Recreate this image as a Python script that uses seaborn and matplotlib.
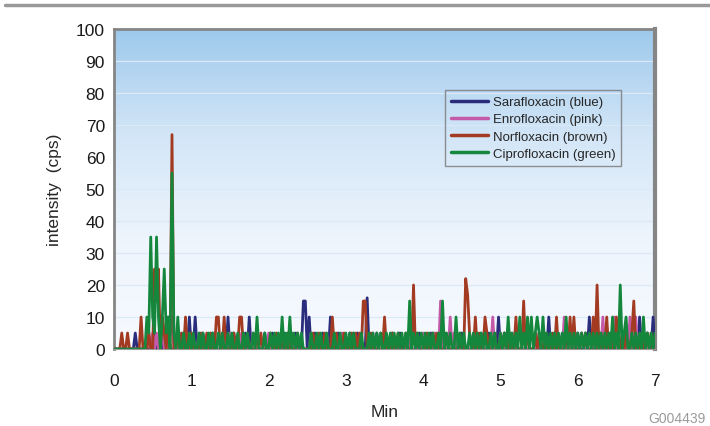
import numpy as np
import pandas as pd
import matplotlib.pyplot as plt
import seaborn as sns
from matplotlib.colors import LinearSegmentedColormap
from matplotlib.lines import Line2D

sns.set_theme(style="white")
plt.rcParams['font.family'] = ['Liberation Sans', 'DejaVu Sans']

# sampling step of the trace (min) and run length
dt = 0.025
run_end = 7.0

# nonzero samples (time in min, intensity in cps)
sara_t = [0.275, 0.525, 0.6, 0.7, 0.9, 0.975, 1.05, 1.15, 1.275, 1.475, 1.55, 1.7, 1.75,
          1.95, 2.05, 2.2, 2.35, 2.45, 2.475, 2.525, 2.6, 2.7, 2.8, 2.9, 3.05, 3.15, 3.275,
          3.4, 3.6, 3.7, 3.95, 4.1, 4.5, 4.75, 4.85, 4.975, 5.05, 5.2, 5.45, 5.625, 5.7,
          5.8, 6.0, 6.1, 6.15, 6.25, 6.4, 6.6, 6.7, 6.8, 6.9, 6.975]
sara_v = [5, 5, 5, 5, 5, 10, 10, 5, 5, 10, 5, 5, 10,
          5, 5, 5, 5, 15, 15, 10, 5, 5, 10, 5, 5, 5, 16,
          5, 5, 5, 5, 5, 5, 5, 5, 10, 5, 5, 5, 10, 5,
          5, 5, 5, 10, 5, 5, 5, 5, 10, 5, 10]

enro_t = [0.45, 0.5, 0.55, 0.6, 0.625, 0.675, 0.725, 0.75, 0.85, 0.95, 1.1, 1.3, 1.5,
          1.65, 1.8, 2.0, 2.3, 2.55, 2.75, 2.95, 3.1, 3.35, 3.5, 3.8, 4.0, 4.15, 4.225,
          4.35, 4.4, 4.65, 4.9, 5.0, 5.15, 5.5, 5.75, 5.825, 5.95, 6.05, 6.2, 6.325,
          6.45, 6.475, 6.6, 6.675, 6.75, 6.85]
enro_v = [5, 5, 5, 5, 5, 5, 5, 10, 5, 5, 5, 5, 5,
          5, 5, 5, 5, 5, 5, 5, 5, 5, 5, 5, 5, 5, 15,
          10, 5, 5, 10, 5, 5, 5, 5, 10, 5, 5, 5, 10,
          5, 10, 5, 10, 10, 5]

norf_t = [0.1, 0.175, 0.35, 0.45, 0.525, 0.55, 0.575, 0.625, 0.65, 0.7, 0.75, 0.825,
          0.875, 0.925, 1.0, 1.125, 1.2, 1.25, 1.325, 1.35, 1.425, 1.55, 1.625, 1.65,
          1.725, 1.85, 1.9, 2.025, 2.1, 2.175, 2.25, 2.375, 2.575, 2.65, 2.725, 2.825,
          2.875, 2.975, 3.075, 3.125, 3.175, 3.225, 3.25, 3.325, 3.45, 3.5, 3.6, 3.675,
          3.775, 3.875, 3.925, 4.05, 4.125, 4.175, 4.3, 4.475, 4.55, 4.575, 4.6, 4.675,
          4.725, 4.8, 4.825, 4.925, 5.05, 5.125, 5.2, 5.3, 5.35, 5.45, 5.5, 5.575,
          5.675, 5.725, 5.85, 5.9, 5.95, 6.05, 6.1, 6.2, 6.25, 6.3, 6.375, 6.425, 6.5,
          6.575, 6.625, 6.7, 6.725, 6.825, 6.9, 6.95]
norf_v = [5, 5, 10, 5, 25, 15, 25, 10, 5, 10, 67, 5,
          5, 10, 5, 5, 5, 5, 10, 10, 10, 5, 10, 10,
          5, 5, 5, 5, 5, 5, 5, 5, 5, 5, 5, 10,
          5, 5, 5, 5, 5, 15, 15, 5, 5, 10, 5, 5,
          5, 20, 5, 5, 5, 5, 5, 5, 22, 17, 5, 10,
          5, 10, 5, 5, 5, 5, 10, 15, 5, 5, 5, 5,
          5, 10, 5, 10, 10, 5, 5, 10, 20, 5, 10, 5, 10,
          5, 5, 5, 15, 5, 5, 5]

cipro_t = [0.425, 0.45, 0.475, 0.5, 0.525, 0.55, 0.575, 0.625, 0.65, 0.675, 0.7, 0.725,
           0.75, 0.775, 0.825, 0.9, 0.975, 1.025, 1.1, 1.15, 1.225, 1.275, 1.35, 1.4,
           1.475, 1.525, 1.6, 1.675, 1.725, 1.8, 1.85, 1.95, 2.025, 2.075, 2.125, 2.175,
           2.225, 2.275, 2.325, 2.375, 2.425, 2.55, 2.625, 2.675, 2.75, 2.85, 2.925, 3.0,
           3.05, 3.1, 3.2, 3.3, 3.35, 3.4, 3.45, 3.525, 3.575, 3.625, 3.675, 3.725, 3.775,
           3.825, 3.875, 3.925, 3.975, 4.025, 4.075, 4.125, 4.2, 4.25, 4.3, 4.35, 4.425,
           4.475, 4.525, 4.6, 4.65, 4.7, 4.75, 4.8, 4.875, 4.925, 5.0, 5.05, 5.1, 5.15,
           5.2, 5.25, 5.3, 5.35, 5.4, 5.45, 5.475, 5.5, 5.55, 5.6, 5.65, 5.7, 5.75, 5.8,
           5.85, 5.9, 5.95, 6.0, 6.05, 6.1, 6.15, 6.2, 6.25, 6.3, 6.35, 6.4, 6.45, 6.5,
           6.55, 6.6, 6.625, 6.7, 6.75, 6.8, 6.85, 6.9, 6.95, 7.0]
cipro_v = [10, 5, 35, 10, 5, 35, 10, 10, 25, 5, 10, 0,
           55, 5, 10, 5, 5, 5, 5, 5, 5, 5, 5, 5,
           5, 5, 5, 5, 5, 5, 10, 5, 5, 5, 5, 10,
           5, 10, 5, 5, 5, 5, 5, 5, 5, 5, 5, 5,
           5, 5, 5, 5, 5, 5, 5, 5, 5, 5, 5, 5, 5,
           15, 5, 5, 5, 5, 5, 5, 5, 15, 5, 5, 10,
           5, 5, 5, 5, 5, 5, 5, 5, 5, 5, 5, 10, 5,
           5, 10, 5, 10, 10, 5, 10, 5, 10, 5, 5, 5, 5, 5,
           10, 5, 5, 5, 5, 5, 5, 5, 5, 5, 5, 5, 10, 5,
           20, 5, 10, 5, 5, 5, 10, 5, 5, 5]

series = [
    ("Sarafloxacin (blue)", sara_t, sara_v),
    ("Enrofloxacin (pink)", enro_t, enro_v),
    ("Norfloxacin (brown)", norf_t, norf_v),
    ("Ciprofloxacin (green)", cipro_t, cipro_v),
]
colors = ["#2a2c7c", "#c45aa8", "#a23b22", "#15873d"]

# full traces: every sample not listed reads zero
n = int(round(run_end / dt)) + 1
times = np.arange(n) * dt
frames = []
for name, ts, vs in series:
    trace = np.zeros(n)
    for t, v in zip(ts, vs):
        trace[int(round(t / dt))] = v
    frames.append(pd.DataFrame({"Min": times, "cps": trace, "compound": name}))
df = pd.concat(frames, ignore_index=True)

fig = plt.figure(figsize=(7.1, 4.27), dpi=100)
ax = fig.add_axes([0.1606, 0.1803, 0.7620, 0.7494])

# blue-to-white background
bg = LinearSegmentedColormap.from_list("bg", ["#f7faff", "#eef5fd", "#d3e6f7", "#9ec9ec"])
grad = np.linspace(0, 1, 256).reshape(-1, 1)
ax.imshow(grad, cmap=bg, aspect="auto", origin="lower", extent=[0, 7, 0, 100], zorder=0)

for y in range(10, 100, 10):
    ax.axhline(y, color="#dbe9f7", lw=0.9, zorder=1)

sns.lineplot(data=df, x="Min", y="cps", hue="compound", palette=colors,
             estimator=None, sort=False, linewidth=2.0, ax=ax, zorder=3)

ax.set_xlim(0, 7)
ax.set_ylim(0, 100)
ax.set_xticks(range(0, 8))
ax.set_yticks(range(0, 101, 10))
ax.tick_params(axis="both", labelsize=12.5, colors="#1a1a1a", length=3, width=0.8,
               direction="out", color="#888888")
ax.tick_params(axis="x", pad=14)
ax.set_xlabel("Min", fontsize=12.5, labelpad=12)
ax.set_ylabel("intensity  (cps)", fontsize=12.5, labelpad=10)

for side in ["top", "right", "left"]:
    ax.spines[side].set_color("#858585")
    ax.spines[side].set_linewidth(2)
ax.spines["right"].set_linewidth(3)
ax.spines["bottom"].set_color("#999999")
ax.spines["bottom"].set_linewidth(0.8)

leg = ax.legend(loc="upper left", bbox_to_anchor=(0.6, 0.83), fontsize=9.5,
                frameon=True, fancybox=False, handlelength=2.8, handletextpad=0.35,
                borderpad=0.45, labelspacing=0.38)
leg.get_frame().set_edgecolor("#777777")
leg.get_frame().set_facecolor("none")
leg.get_frame().set_linewidth(1)
for line in leg.get_lines():
    line.set_linewidth(2.5)

fig.add_artist(Line2D([0.007, 1.0], [0.986, 0.986], color="#999999", lw=2.5))
fig.text(0.993, 0.002, "G004439", ha="right", va="bottom", fontsize=10, color="#9a9a9a")

fig.savefig("out.png", dpi=100)
